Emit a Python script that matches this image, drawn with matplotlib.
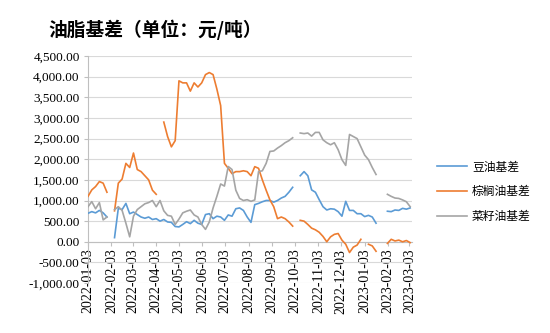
import matplotlib
matplotlib.use("Agg")
import matplotlib.pyplot as plt
import numpy as np
import pandas as pd

# sampled every 5 days from 2022-01-03 (None = no data)
start_date = "2022-01-03"
step = "5D"

soybean = [690, 730, 700, 760, 700, 600, None, 100, 811, 780,
           930, 680, 720, 660, 600, 570, 600, 540, 560, 500,
           540, 480, 470, 370, 360, 420, 486, 440, 520, 450,
           420, 660, 680, 560, 620, 600, 520, 650, 620, 800,
           820, 760, 600, 470, 900, 930, 970, 1000, 1000, 960,
           1000, 1060, 1100, 1200, 1320, None, 1600, 1700, 1600, 1257,
           1200, 1020, 850, 770, 800, 790, 730, 620, 980, 760,
           760, 680, 680, 610, 640, 600, 450, None, None, 740,
           730, 770, 760, 810, 790, 820]

palm = [1100, 1257, 1338, 1459, 1420, 1200, None, 750, 1420, 1520,
        1900, 1800, 2150, 1750, 1700, 1600, 1500, 1250, 1150, None,
        2900, 2550, 2300, 2450, 3900, 3850, 3850, 3650, 3850, 3750,
        3850, 4050, 4100, 4050, 3700, 3300, 1900, 1780, 1650, 1700,
        1700, 1720, 1700, 1600, 1820, 1780, 1500, 1250, 1014, 850,
        560, 600, 560, 480, 380, None, 520, 500, 420, 330,
        290, 230, 130, 0, 120, 180, 200, 40, -60, -260,
        -130, -80, 60, None, -60, -100, -230, None, None, -40,
        60, 20, 40, 0, 30, -20]

rapeseed = [850, 973, 800, 950, 530, 600, None, 780, 850, 760,
            450, 120, 620, 780, 850, 920, 950, 1000, 850, 1000,
            750, 640, 620, 420, 550, 700, 740, 770, 650, 600,
            420, 300, 480, 820, 1100, 1400, 1350, 1824, 1750, 1250,
            1050, 1000, 1020, 980, 1014, 1700, 1720, 1900, 2189, 2200,
            2270, 2330, 2400, 2450, 2520, None, 2635, 2620, 2635, 2560,
            2650, 2650, 2470, 2400, 2350, 2400, 2230, 1990, 1850, 2600,
            2550, 2500, 2300, 2100, 1990, 1800, 1630, None, None, 1150,
            1100, 1060, 1050, 1014, 970, 850]

series_names = ["豆油基差", "棕榈油基差", "菜籽油基差"]
colors = ["#5B9BD5", "#ED7D31", "#A5A5A5"]

tick_labels = ["2022-01-03", "2022-02-03", "2022-03-03", "2022-04-03", "2022-05-03",
               "2022-06-03", "2022-07-03", "2022-08-03", "2022-09-03", "2022-10-03",
               "2022-11-03", "2022-12-03", "2023-01-03", "2023-02-03", "2023-03-03"]

dates = pd.date_range(start_date, periods=len(soybean), freq=step)

plt.rcParams["font.family"] = "serif"
plt.rcParams["font.serif"] = ["Liberation Serif", "DejaVu Serif"]
cjk = ["Noto Sans CJK SC", "DejaVu Sans"]

fig = plt.figure(figsize=(5.5, 3.33), dpi=100)
ax = fig.add_axes([0.16, 0.15, 0.5885, 0.6817])

# spines first: moving a spine resets the tick objects
ax.spines["top"].set_visible(False)
ax.spines["right"].set_visible(False)
ax.spines["bottom"].set_position(("data", 0))
ax.spines["bottom"].set_color("#bfbfbf")
ax.spines["left"].set_color("#bfbfbf")

for vals, name, c in zip([soybean, palm, rapeseed], series_names, colors):
    y = np.array([np.nan if v is None else v for v in vals], dtype=float)
    ax.plot(dates, y, color=c, lw=1.2, label=name, zorder=3)

ax.set_ylim(-1000, 4500)
yt = np.arange(-1000, 4501, 500)
ax.set_yticks(yt)
ax.set_yticklabels([f"{v:,.2f}" for v in yt], fontsize=9.5)
ax.set_xlim(pd.Timestamp("2022-01-03"), pd.Timestamp("2023-03-06"))
ax.set_xticks(pd.to_datetime(tick_labels))
ax.set_xticklabels(tick_labels, rotation=90, fontsize=10)

ax.set_axisbelow(True)
ax.yaxis.grid(True, color="#d9d9d9", lw=0.8)
ax.tick_params(axis="x", length=3, color="#bfbfbf", pad=2)
ax.tick_params(axis="y", length=3, color="#bfbfbf", pad=3)

fig.text(48 / 550, 1 - 30 / 333, "油脂基差（单位：元/吨）", family=cjk,
         fontsize=13.5, fontweight="bold", ha="left", va="center")

leg = fig.legend(loc="upper left", bbox_to_anchor=(426 / 550, 1 - 150 / 333),
                 frameon=False, prop={"family": cjk, "size": 8.5},
                 handlelength=2.6, labelspacing=1.0, handletextpad=0.4)

fig.savefig("out.png", dpi=100)
